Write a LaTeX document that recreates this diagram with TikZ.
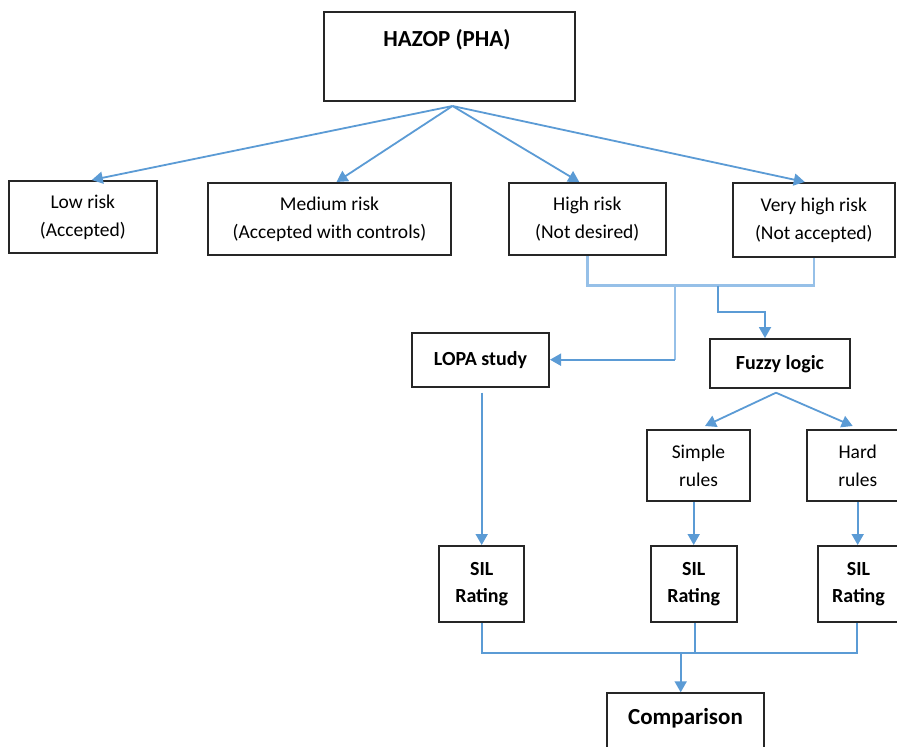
\documentclass[tikz,border=0pt]{standalone}
\usepackage{fontspec}
\setmainfont{Carlito}
\usetikzlibrary{arrows.meta,calc}
\definecolor{cblue}{RGB}{91,155,213}
\definecolor{lblue}{RGB}{150,192,232}
\begin{document}
\begin{tikzpicture}[x=1pt,y=-1pt,
  box/.style={draw=black!85,line width=2pt,fill=white,inner sep=0pt,align=center,
    font=\fontsize{19.5}{28}\selectfont},
  bbox/.style={box,font=\fontsize{20}{26.5}\selectfont\bfseries},
  txt/.style={inner sep=0pt,align=center},
  arr/.style={draw=cblue,line width=1.8pt,-{Triangle[length=11pt,width=12pt]}},
  con/.style={draw=cblue,line width=1.8pt},
  lcon/.style={draw=lblue,line width=2.4pt}]
\clip (0,0) rectangle (897,747);
\fill[white] (0,0) rectangle (897,747);
% nodes
\node[box,minimum width=251,minimum height=88.5] (hazop) at (449.5,56.7) {};
\node[txt,font=\fontsize{23}{26}\selectfont\bfseries] (hazopt) at (447,40) {HAZOP (PHA)};
\node[box,minimum width=148.4,minimum height=72] (low) at (82.8,217) {Low risk\\(Accepted)};
\node[box,minimum width=243,minimum height=72] (med) at (329.5,219) {Medium risk\\(Accepted with controls)};
\node[box,minimum width=157.4,minimum height=72] (high) at (587.3,219) {High risk\\(Not desired)};
\node[box,minimum width=161.6,minimum height=73.7] (vhigh) at (813.8,219.8) {Very high risk\\(Not accepted)};
\node[bbox,minimum width=137,minimum height=54] (lopa) at (480.5,359.7) {LOPA study};
\node[bbox,minimum width=140,minimum height=49.3] (fuzzy) at (780,363.7) {Fuzzy logic};
\node[box,minimum width=103,minimum height=71] (simple) at (698.5,465.5) {Simple\\rules};
\node[box,minimum width=102,minimum height=71] (hard) at (857.7,465.5) {Hard\\rules};
\node[bbox,minimum width=85.3,minimum height=76] (sil1) at (481.7,584) {SIL\\Rating};
\node[bbox,minimum width=86,minimum height=76] (sil2) at (693.7,584) {SIL\\Rating};
\node[bbox,minimum width=81,minimum height=76] (sil3) at (858.5,584) {SIL\\Rating};
\node[box,minimum width=157.6,minimum height=80,anchor=north] (comp) at (685.5,692.3) {};
\node[txt,font=\fontsize{23}{26}\selectfont\bfseries] (compt) at (685.5,718) {Comparison};
% coordinates
\coordinate (hz) at (452.5,106);
\coordinate (bus) at (0,285.5);
\coordinate (b1) at (674.7,285.5);
\coordinate (b2) at (718.3,285.5);
\coordinate (fz) at (776,392.7);
\coordinate (lopaout) at (481.7,392.7);
\coordinate (bot) at (0,652.7);
\coordinate (cj) at (680.7,652.7);
% top arrows
\draw[arr] (hz) -- ([xshift=9pt]low.north);
\draw[arr] (hz) -- ([xshift=7pt]med.north);
\draw[arr] (hz) -- ([xshift=-8pt]high.north);
\draw[arr] (hz) -- ([xshift=-9pt]vhigh.north);
% trunk
\draw[lcon] (high.south) |- (vhigh.south |- bus) -- (vhigh.south);
\draw[lcon] (b1) -- (b1 |- lopa.east);
\draw[arr] (b1 |- lopa.east) -- (lopa.east);
\draw[arr] (b2) |- ([xshift=-15pt,yshift=26pt]fuzzy.north) -- ([xshift=-15pt]fuzzy.north);
% fuzzy branches
\draw[arr] (fz) -- ([xshift=6.5pt,yshift=3pt]simple.north);
\draw[arr] (fz) -- ([xshift=-5pt,yshift=3pt]hard.north);
% to SIL
\draw[arr] (lopaout) -- (sil1.north);
\draw[arr] (sil2.north |- simple.south) -- (sil2.north);
\draw[arr] (hard.south) -- (hard.south |- sil3.north);
% bottom collector
\draw[con] (sil1.south) |- ([xshift=-1.8pt]sil3.south |- bot) -- ([xshift=-1.8pt]sil3.south);
\draw[con] ([xshift=1.6pt]sil2.south) -- ([xshift=1.6pt]sil2.south |- bot);
\draw[arr] (cj) -- (cj |- comp.north);
\end{tikzpicture}
\end{document}
